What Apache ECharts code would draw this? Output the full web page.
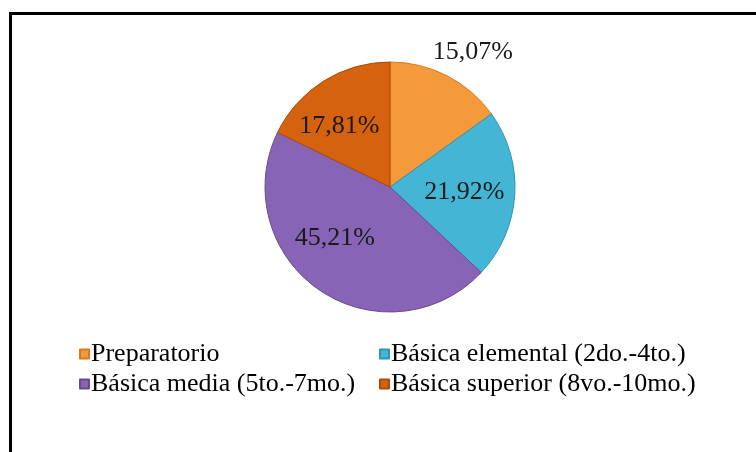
<!DOCTYPE html>
<html>
<head>
<meta charset="utf-8">
<script src="https://cdn.jsdelivr.net/npm/echarts@6/dist/echarts.min.js"></script>
<style>
  html, body { margin: 0; padding: 0; background: #fff; }
  #frame {
    position: absolute; left: 9px; top: 12px; width: 800px; height: 500px;
    border-top: 3px solid #000; border-left: 3px solid #000;
  }
  #chart { position: absolute; left: 0; top: 0; width: 756px; height: 452px; }
</style>
</head>
<body>
<div id="frame"></div>
<div id="chart"></div>
<script>
// datos del gráfico
const categorias = ['Preparatorio', 'Básica elemental (2do.-4to.)', 'Básica media (5to.-7mo.)', 'Básica superior (8vo.-10mo.)']
const porcentajes = [15.07, 21.92, 45.21, 17.81]
const colores = ['#F59A3A', '#45B5D5', '#8764B5', '#D5620F']
const bordes = ['#D9791C', '#2C95B3', '#684A94', '#A84A08']
// desplazamiento de cada etiqueta respecto a su posición interior
const desplazamientos = [[53, -77], [9, 1], [-18, -3], [-16, -5]]

const chart = echarts.init(document.getElementById('chart'))
const fuente = '"Liberation Serif", "Times New Roman", serif'

const legendaBase = {
  orient: 'vertical',
  icon: 'rect',
  itemWidth: 9,
  itemHeight: 9,
  itemGap: 4,
  top: 336,
  textStyle: { fontFamily: fuente, fontSize: 26, color: '#000', padding: [0, 0, 0, -3] }
}

const option = {
  animation: false,
  backgroundColor: 'transparent',
  legend: [
    Object.assign({}, legendaBase, { left: 74, data: [categorias[0], categorias[2]] }),
    Object.assign({}, legendaBase, { left: 374, data: [categorias[1], categorias[3]] })
  ],
  series: [
    {
      type: 'pie',
      center: [390, 187],
      radius: [0, 125],
      startAngle: 90,
      clockwise: true,
      label: {
        show: true,
        position: 'inside',
        fontFamily: fuente,
        fontSize: 26,
        color: '#1a1a1a',
        formatter: (p) => p.value.toFixed(2).replace('.', ',') + '%'
      },
      labelLine: { show: false },
      data: categorias.map((nombre, i) => ({
        name: nombre,
        value: porcentajes[i],
        itemStyle: { color: colores[i], borderColor: bordes[i], borderWidth: 1 },
        label: { offset: desplazamientos[i] }
      }))
    }
  ]
}
chart.setOption(option)
</script>
</body>
</html>
